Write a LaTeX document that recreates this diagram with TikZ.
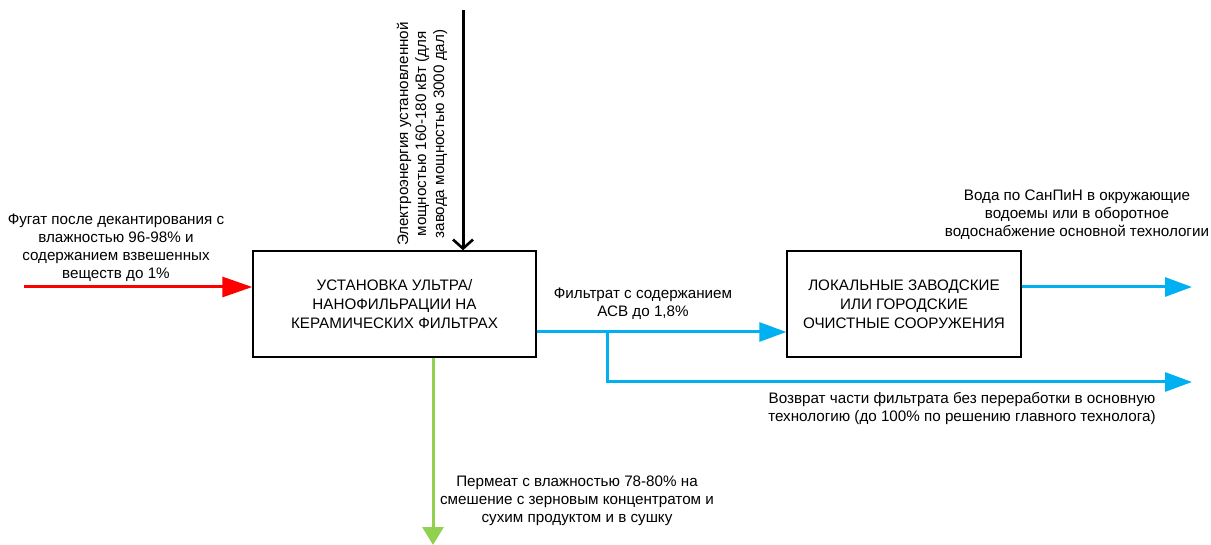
\documentclass[tikz,border=0pt]{standalone}
\usepackage{fontspec}
\setmainfont{Liberation Sans}
\usetikzlibrary{arrows.meta}
\definecolor{flowred}{HTML}{FF0000}
\definecolor{flowblue}{HTML}{00B0F0}
\definecolor{flowgreen}{HTML}{92D050}
\tikzset{
  unit/.style={draw=black, line width=1.4pt, minimum width=283pt, minimum height=106pt,
    align=center, inner sep=0pt, font=\fontsize{15.2}{19}\selectfont},
  lbl/.style={align=center, inner sep=0pt, font=\fontsize{15.2}{18}\selectfont},
  redflow/.style={draw=flowred, line width=3pt, -{Triangle[length=30pt,width=20pt]}},
  blueflow/.style={draw=flowblue, line width=3pt, -{Triangle[length=27pt,width=19pt]}},
  greenflow/.style={draw=flowgreen, line width=3pt, -{Triangle[length=18pt,width=21pt]}},
  powerflow/.style={draw=black, line width=3pt, -{Straight Barb[length=9pt,width=20pt,line width=2.6pt]}}
}
\begin{document}
\begin{tikzpicture}[x=1pt,y=-1pt]
\useasboundingbox (0,0) rectangle (1211,545);

% process blocks
\node[unit] (plant) at (394.5,304) {УСТАНОВКА УЛЬТРА/\\НАНОФИЛЬРАЦИИ НА\\КЕРАМИЧЕСКИХ ФИЛЬТРАХ};
\node[unit, minimum width=234pt] (tsu) at (904,304) {ЛОКАЛЬНЫЕ ЗАВОДСКИЕ\\ИЛИ ГОРОДСКИЕ\\ОЧИСТНЫЕ СООРУЖЕНИЯ};

% free ends of the flows
\coordinate (inL) at (24,287);
\coordinate (pwr) at (463,10);
\coordinate (fy) at (0,332);
\coordinate (br) at (607,332);
\coordinate (ret) at (1192,382);
\coordinate (out) at (1192,287);
\coordinate (perm) at (433,545);

% flows
\draw[redflow] (inL) -- (plant.west |- inL);
\draw[powerflow] (pwr) -- (pwr |- plant.north);
\draw[blueflow] (plant.east |- fy) -- (tsu.west |- fy);
\draw[blueflow] (br) |- (ret);
\draw[blueflow] (tsu.east |- out) -- (out);
\draw[greenflow] (perm |- plant.south) -- (perm);

% labels
\node[lbl] (tin) at (116,248) {Фугат после декантирования с\\влажностью 96-98\% и\\содержанием взвешенных\\веществ до 1\%};
\node[lbl, rotate=90] (tpwr) at (422,134) {Электроэнергия установленной\\мощностью 160-180 кВт (для\\завода мощностью 3000 дал)};
\node[lbl] (tfil) at (643,304) {Фильтрат с содержанием\\АСВ до 1,8\%};
\node[lbl] (tout) at (1077,215) {Вода по СанПиН в окружающие\\водоемы или в оборотное\\водоснабжение основной технологии};
\node[lbl] (tret) at (962,409) {Возврат части фильтрата без переработки в основную\\технологию (до 100\% по решению главного технолога)};
\node[lbl] (tperm) at (577,501) {Пермеат с влажностью 78-80\% на\\смешение с зерновым концентратом и\\сухим продуктом и в сушку};
\end{tikzpicture}
\end{document}
